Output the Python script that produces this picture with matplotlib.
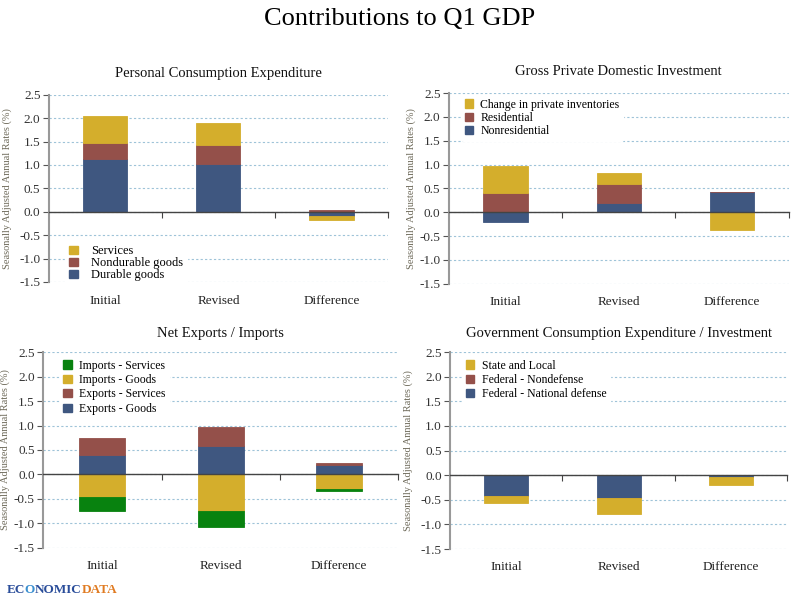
import numpy as np
import matplotlib
matplotlib.use("Agg")
import matplotlib.pyplot as plt
from matplotlib.patches import Patch

plt.rcParams['font.family'] = ['Liberation Serif', 'DejaVu Serif']

categories = ["Initial", "Revised", "Difference"]

# Personal Consumption Expenditure
pce_names = ["Durable goods", "Nondurable goods", "Services"]
pce_durable = [1.13, 1.03, -0.08]
pce_nondurable = [0.35, 0.39, 0.04]
pce_services = [0.56, 0.48, -0.09]

# Gross Private Domestic Investment
gpdi_names = ["Nonresidential", "Residential", "Change in private inventories"]
gpdi_nonres = [-0.21, 0.20, 0.42]
gpdi_res = [0.40, 0.40, 0.01]
gpdi_inv = [0.58, 0.23, -0.37]

# Net exports / imports
nx_names = ["Exports - Goods", "Exports - Services", "Imports - Goods", "Imports - Services"]
nx_exp_goods = [0.39, 0.59, 0.20]
nx_exp_serv = [0.35, 0.38, 0.03]
nx_imp_goods = [-0.46, -0.75, -0.30]
nx_imp_serv = [-0.29, -0.32, -0.03]

# Government
gov_names = ["Federal - National defense", "Federal - Nondefense", "State and Local"]
gov_defense = [-0.42, -0.46, -0.03]
gov_nondef = [-0.01, -0.01, 0.0]
gov_state = [-0.14, -0.31, -0.16]

BLUE = "#3f5780"
RED = "#94504a"
YELLOW = "#d4ae2c"
GREEN = "#08820f"

yticks = [-1.5, -1.0, -0.5, 0.0, 0.5, 1.0, 1.5, 2.0, 2.5]


def stacked(ax, title, series, names, colors, legend_loc, legend_anchor, ylab_x,
            title_pad, leg_fs, leg_sp, leg_tp=0.6):
    x = np.arange(len(categories))
    pos = np.zeros(len(categories))
    neg = np.zeros(len(categories))
    for vals, c in zip(series, colors):
        vals = np.array(vals)
        bottom = np.where(vals >= 0, pos, neg)
        ax.bar(x, vals, 0.39, bottom=bottom, color=c, edgecolor=c,
               linewidth=0.6, zorder=3)
        pos = pos + np.where(vals >= 0, vals, 0)
        neg = neg + np.where(vals < 0, vals, 0)

    ax.set_xlim(-0.5, 2.5)
    ax.set_ylim(-1.5, 2.5)
    ax.set_yticks(yticks)
    ax.set_yticklabels(["%.1f" % v for v in yticks], fontsize=9.5, color="#333333")
    ax.set_xticks(x)
    ax.set_xticklabels(categories, fontsize=9.5, color="#222222")
    ax.tick_params(axis="x", length=0, pad=9)
    ax.tick_params(axis="y", direction="out", length=4, color="#555555", pad=2)
    for s in ["top", "right", "bottom"]:
        ax.spines[s].set_visible(False)
    ax.spines["left"].set_color("#999999")
    ax.spines["left"].set_linewidth(1.5)
    ax.yaxis.grid(True, linestyle=(0, (2, 2)), color="#9ec3d8", linewidth=0.8, zorder=0)
    ax.set_axisbelow(True)

    # zero line with category-boundary ticks
    sec = ax.secondary_xaxis(1.5 / 4.0)
    sec.set_xticks([0.5, 1.5, 2.5])
    sec.tick_params(direction="out", length=4, color="#444444", labelbottom=False, labeltop=False)
    sec.spines["bottom"].set_color("#444444")
    sec.spines["bottom"].set_linewidth(1.0)
    sec.set_zorder(4)

    ax.set_title(title, fontsize=10.5, pad=title_pad, color="#111111")
    ax.set_ylabel("Seasonally Adjusted Annual Rates (%)", fontsize=7.5, color="#6e6a5a")
    ax.yaxis.set_label_coords(ylab_x, 0.5)

    handles = [Patch(facecolor=c, edgecolor=c) for c in colors][::-1]
    leg = ax.legend(handles, names[::-1], loc=legend_loc, bbox_to_anchor=legend_anchor,
                    fontsize=leg_fs, frameon=True, facecolor="white", edgecolor="white",
                    framealpha=1.0, handlelength=0.7, handleheight=0.7,
                    handletextpad=leg_tp, labelspacing=leg_sp, borderpad=0.3)
    leg.set_zorder(5)


fig = plt.figure(figsize=(8, 6), dpi=100)
fig.text(0.5, 0.968, "Contributions to Q1 GDP", ha="center", va="center", fontsize=19)

ax1 = fig.add_axes([0.061, 0.53, 0.424, 0.312])
stacked(ax1, "Personal Consumption Expenditure",
        [pce_durable, pce_nondurable, pce_services], pce_names,
        [BLUE, RED, YELLOW], "lower left", (0.03, -0.05), -0.109, 13, 9, 0.0, 1.1)

ax2 = fig.add_axes([0.561, 0.527, 0.425, 0.318])
stacked(ax2, "Gross Private Domestic Investment",
        [gpdi_nonres, gpdi_res, gpdi_inv], gpdi_names,
        [BLUE, RED, YELLOW], "upper left", (0.02, 1.02), -0.097, 13, 8.5, 0.12)

ax3 = fig.add_axes([0.054, 0.087, 0.444, 0.326])
stacked(ax3, "Net Exports / Imports",
        [nx_exp_goods, nx_exp_serv, nx_imp_goods, nx_imp_serv], nx_names,
        [BLUE, RED, YELLOW, GREEN], "upper left", (0.03, 1.01), -0.093, 11, 8.5, 0.2)

ax4 = fig.add_axes([0.5625, 0.085, 0.4215, 0.328])
stacked(ax4, "Government Consumption Expenditure / Investment",
        [gov_defense, gov_nondef, gov_state], gov_names,
        [BLUE, RED, YELLOW], "upper left", (0.02, 1.01), -0.11, 11, 8.5, 0.2)

# logo
t1 = fig.text(0.008, 0.016, "EC", fontsize=9.5, fontweight="bold", color="#2a4d9a",
              va="center", ha="left")
fig.canvas.draw()
bb = t1.get_window_extent()
t2 = fig.text(bb.x1 / 800.0, 0.016, "O", fontsize=9.5, fontweight="bold",
              color="#3a8fd0", va="center", ha="left")
fig.canvas.draw()
bb = t2.get_window_extent()
t3 = fig.text(bb.x1 / 800.0, 0.016, "NOMIC", fontsize=9.5, fontweight="bold",
              color="#2a4d9a", va="center", ha="left")
fig.canvas.draw()
bb = t3.get_window_extent()
fig.text(bb.x1 / 800.0, 0.016, "DATA", fontsize=9.5, fontweight="bold",
         color="#e07b22", va="center", ha="left")

fig.savefig("out.png", dpi=100)
